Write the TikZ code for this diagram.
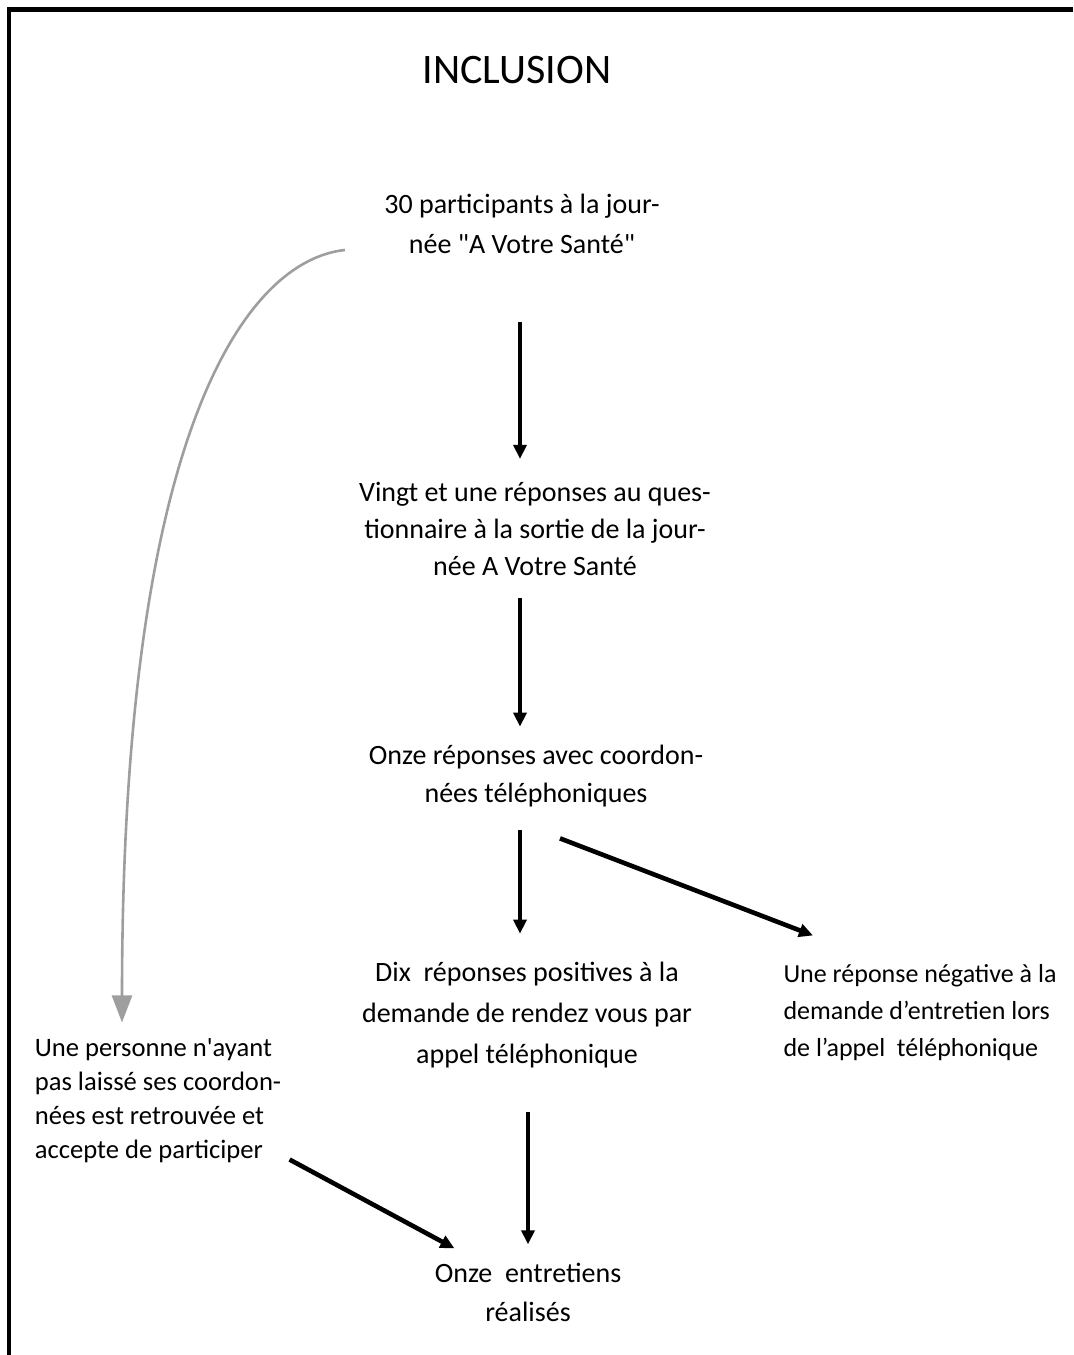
\documentclass[tikz,border=0pt]{standalone}
\usepackage{fontspec}
\setmainfont{Carlito}
\usepackage{tikz}
\usetikzlibrary{arrows.meta}

\begin{document}
\begin{tikzpicture}[x=0.5pt, y=-0.5pt,
        texte/.style={align=center, inner sep=0pt, font=\fontsize{14}{18.5}\selectfont},
        fleche/.style={line width=2.3pt, -{Triangle[length=7pt, width=6.5pt]}},
        gris/.style={line width=1.3pt, draw=black!38, -{Triangle[length=13.5pt, width=10pt, fill=black!38]}}]
                \useasboundingbox (0,0) rectangle (1073,1355);
                % cadre
                \draw[line width=2.25pt] (9,1355) -- (9,9.5) -- (1073,9.5);
                \node[inner sep=0pt, font=\fontsize{21}{24}\selectfont] (titre) at (517,70) {INCLUSION};
                \node[texte, font=\fontsize{14}{20}\selectfont] (p30) at (522,224) {30 participants à la jour-\\née \textquotedbl A Votre Santé\textquotedbl};
                \node[texte] (vingt) at (535,529) {Vingt et une réponses au ques-\\tionnaire à la sortie de la jour-\\née A Votre Santé};
                \node[texte, font=\fontsize{14}{19}\selectfont] (onze) at (536,776) {Onze réponses avec coordon-\\nées téléphoniques};
                \node[texte, font=\fontsize{14}{20.5}\selectfont] (dix) at (527,1015) {Dix\ \ réponses positives à la\\demande de rendez vous par\\appel téléphonique};
                \node[texte, align=left, font=\fontsize{13}{18.5}\selectfont] (nego) at (920,1013) {Une réponse négative à la\\demande d’entretien lors\\de l’appel\ \ téléphonique};
                \node[texte, align=left, font=\fontsize{13.3}{17}\selectfont] (pers) at (158,1101) {Une personne n\textquotesingle ayant\\pas laissé ses coordon-\\nées est retrouvée et\\accepte de participer};
                \node[texte, font=\fontsize{14}{19.5}\selectfont] (entre) at (528,1292) {Onze\ \ entretiens\\réalisés};
                \coordinate (axe) at (520,0);
                \coordinate (axe2) at (528,0);
                \draw[fleche, shorten <=34pt, shorten >=11.5pt] (p30.south -| axe) -- (vingt.north -| axe);
                \draw[fleche, shorten <=11pt, shorten >=9pt] (vingt.south -| axe) -- (onze.north -| axe);
                \draw[fleche, shorten <=11.5pt, shorten >=14pt] (onze.south -| axe) -- (dix.north -| axe);
                \draw[fleche] ([xshift=12pt, yshift=-15.5pt]onze.south) -- ([xshift=-53.5pt, yshift=14.5pt]nego.north);
                \draw[fleche, shorten <=22pt, shorten >=9pt] (dix.south -| axe2) -- (entre.north -| axe2);
                \draw[fleche] ([xshift=4pt, yshift=2pt]pers.south east) -- ([xshift=10pt, yshift=7pt]entre.north west);
                \draw[gris] ([xshift=-19.5pt, yshift=-13pt]p30.west) .. controls (250,260) and (122,420) .. ([xshift=-18pt, yshift=8pt]pers.north);
            \end{tikzpicture}
\end{document}
